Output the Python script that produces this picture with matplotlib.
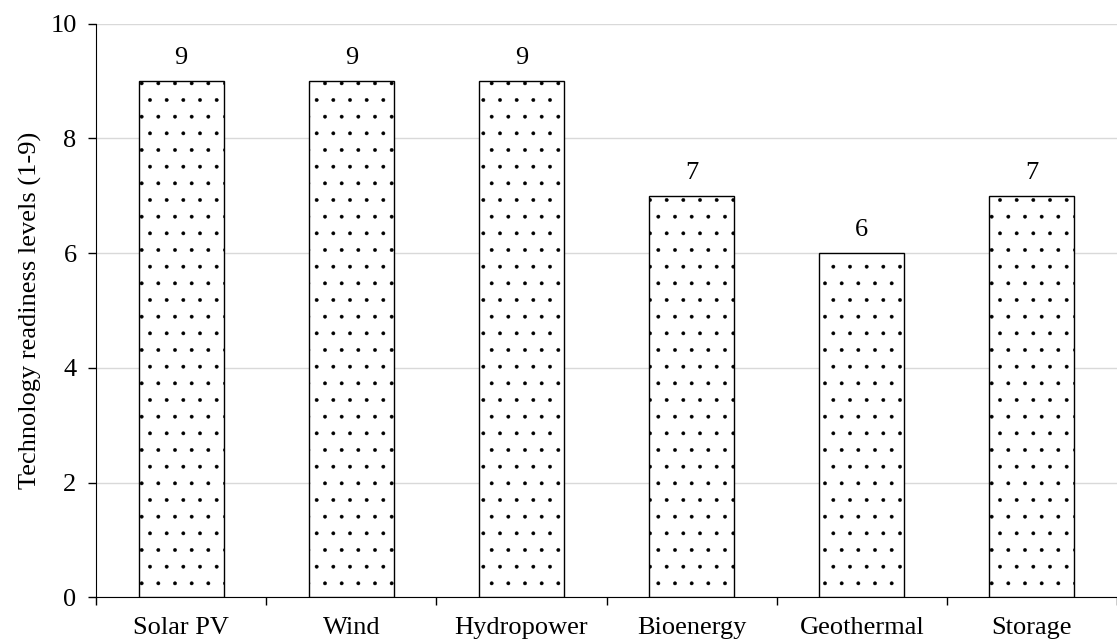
import numpy as np
import matplotlib.pyplot as plt

categories = ["Solar PV", "Wind", "Hydropower", "Bioenergy", "Geothermal", "Storage"]
trl = [9, 9, 9, 7, 6, 7]

plt.rcParams["font.family"] = ["Liberation Serif", "DejaVu Serif"]
plt.rcParams["hatch.linewidth"] = 0.3
plt.rcParams["hatch.color"] = "black"

fig, ax = plt.subplots(figsize=(11.17, 6.41), dpi=100)
fig.subplots_adjust(left=0.086, right=1.0, top=0.963, bottom=0.068)

x = np.arange(len(categories))
ax.bar(x, trl, width=0.5, color="white", edgecolor="black", linewidth=1.0, hatch=".", zorder=3)

for xi, v in zip(x, trl):
    ax.text(xi, v + 0.21, f"{v}", ha="center", va="bottom", fontsize=19)

ax.set_xlim(-0.5, len(categories) - 0.5)
ax.set_ylim(0, 10)
ax.set_yticks(range(0, 11, 2))
ax.tick_params(axis="y", labelsize=19, length=6, width=1.0, direction="out", pad=8)

# category boundaries get the tick marks, the names sit between them
ax.set_xticks(np.arange(-0.5, len(categories), 1.0))
ax.set_xticklabels([])
ax.tick_params(axis="x", which="major", length=6, width=1.0, direction="out")
ax.set_xticks(x, minor=True)
ax.set_xticklabels(categories, minor=True, fontsize=19)
ax.tick_params(axis="x", which="minor", length=0, pad=14)

ax.set_ylabel("Technology readiness levels (1-9)", fontsize=19, labelpad=6)
ax.grid(axis="y", color="#d9d9d9", linewidth=1.0, zorder=0)
ax.spines["top"].set_visible(False)
ax.spines["right"].set_visible(False)

fig.savefig("out.png")
